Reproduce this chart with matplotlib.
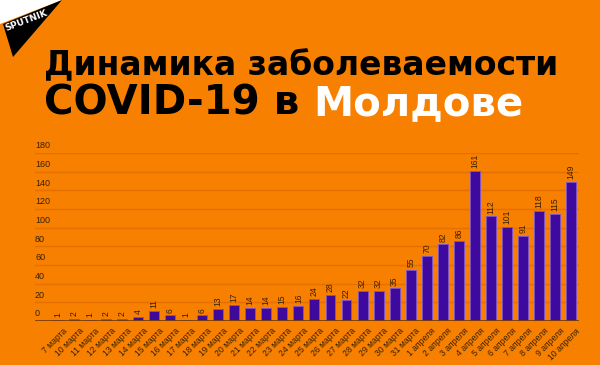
import matplotlib
matplotlib.use('Agg')
import matplotlib.pyplot as plt
from matplotlib.patches import Polygon

dates = ["7 марта", "10 марта", "11 марта", "12 марта", "13 марта", "14 марта",
         "15 марта", "16 марта", "17 марта", "18 марта", "19 марта", "20 марта",
         "21 марта", "22 марта", "23 марта", "24 марта", "25 марта", "26 марта",
         "27 марта", "28 марта", "29 марта", "30 марта", "31 марта",
         "1 апреля", "2 апреля", "3 апреля", "4 апреля", "5 апреля",
         "6 апреля", "7 апреля", "8 апреля", "9 апреля", "10 апреля"]
cases = [1, 2, 1, 2, 2, 4, 11, 6, 1, 6, 13, 17, 14, 14, 15, 16, 24, 28, 22,
         32, 32, 35, 55, 70, 82, 86, 161, 112, 101, 91, 118, 115, 149]
yticks = [0, 20, 40, 60, 80, 100, 120, 140, 160, 180]

BG = '#F78000'
BAR = '#3E0A9E'
TXT = '#3a2000'
SMALL = 'Liberation Sans'

plt.rcParams.update({'font.family': 'DejaVu Sans'})

fig = plt.figure(figsize=(6, 3.65), dpi=100, facecolor=BG)
ax = fig.add_axes([35 / 600, 44 / 365, 544 / 600, 168 / 365])
ax.set_facecolor(BG)

x = list(range(len(cases)))
ax.bar(x, cases, width=0.62, color=BAR, edgecolor='#7b55d6', linewidth=0.6, zorder=3)
for xi, v in zip(x, cases):
    ax.annotate(str(v), (xi, v), xytext=(0, 2), textcoords='offset points',
                rotation=90, ha='center', va='bottom', fontsize=6.2,
                family=SMALL, color=TXT)

ax.set_xlim(-1.43, 32.5)
ax.set_ylim(0, 180)
for t in yticks[1:]:
    ax.axhline(t, color='#E37000', lw=1, zorder=1)
for t in yticks:
    ax.annotate(str(t), (0, t), xycoords=ax.get_yaxis_transform(),
                xytext=(0, 2), textcoords='offset points',
                ha='left', va='bottom', fontsize=6.5, family=SMALL, color=TXT)
ax.axhline(0, color='#7a3c00', lw=2, zorder=4)

ax.set_xticks([xi + 0.3 for xi in x])
ax.set_xticklabels(dates, rotation=45, ha='right', rotation_mode='anchor',
                   fontsize=6.2, family=SMALL, color=TXT)
ax.tick_params(axis='x', length=0, pad=4)
ax.set_yticks([])
for s in ax.spines.values():
    s.set_visible(False)

# title
fig.text(44 / 600, 1 - 75 / 365, "Динамика заболеваемости", fontsize=23.8,
         fontweight='bold', color='black', ha='left', va='baseline')
t1 = fig.text(44 / 600, 1 - 115 / 365, "COVID-19 в ", fontsize=29,
              fontweight='bold', color='black', ha='left', va='baseline')
fig.canvas.draw()
bb = t1.get_window_extent()
fig.text(bb.x1 / 600, 1 - 115 / 365, "Молдове", fontsize=29,
         fontweight='bold', color='white', ha='left', va='baseline')

# sputnik logo corner
H = 365
fig.patches.append(Polygon([(0, 1), (62 / 600, 1), (0, 1 - 24 / H)],
                           closed=True, transform=fig.transFigure,
                           facecolor='white', edgecolor='none'))
fig.patches.append(Polygon([(62 / 600, 1), (3 / 600, 1 - 24 / H), (13 / 600, 1 - 57 / H)],
                           closed=True, transform=fig.transFigure,
                           facecolor='black', edgecolor='none'))
fig.text(26 / 600, 1 - 21 / H, "SPUTNIK", fontsize=6.5, fontweight='bold',
         color='white', rotation=21, ha='center', va='center')

fig.savefig('out.png', dpi=100, facecolor=BG)
